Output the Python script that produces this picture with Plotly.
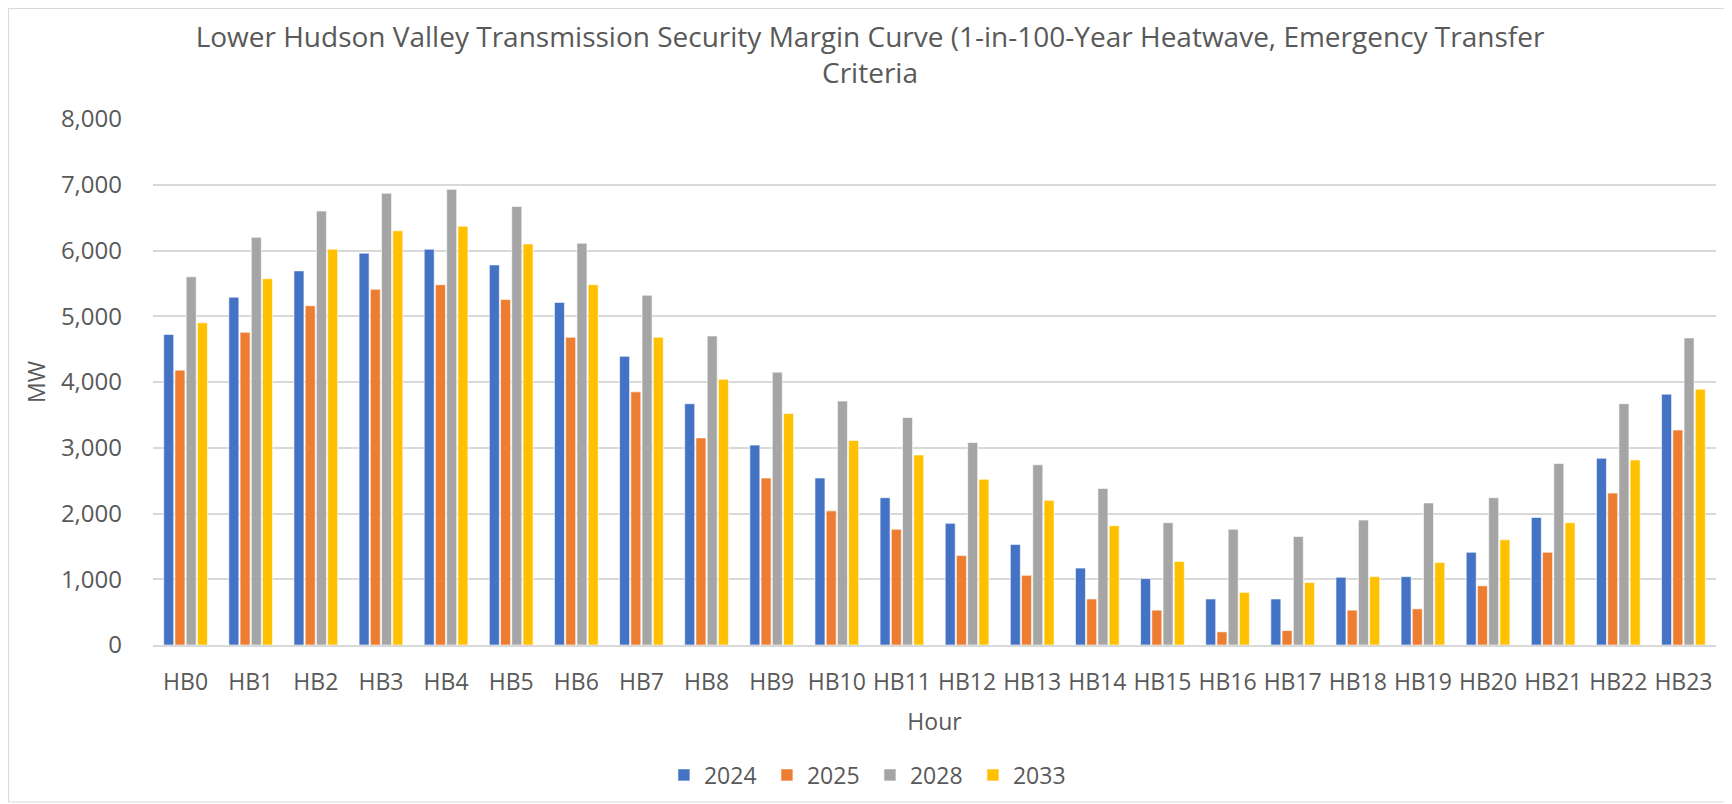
import plotly.graph_objects as go

hours = [f"HB{i}" for i in range(24)]
mw_2024 = [4723, 5290, 5690, 5960, 6020, 5780, 5210, 4390, 3670, 3040, 2540, 2240,
           1850, 1530, 1170, 1010, 700, 700, 1030, 1040, 1410, 1940, 2840, 3815]
mw_2025 = [4180, 4755, 5160, 5410, 5480, 5255, 4680, 3850, 3150, 2540, 2040, 1760,
           1360, 1060, 700, 530, 200, 220, 530, 550, 900, 1410, 2310, 3270]
mw_2028 = [5600, 6200, 6600, 6870, 6930, 6670, 6110, 5320, 4700, 4150, 3710, 3460,
           3080, 2740, 2380, 1860, 1760, 1650, 1900, 2160, 2240, 2760, 3670, 4670]
mw_2033 = [4900, 5570, 6020, 6300, 6370, 6100, 5480, 4680, 4040, 3520, 3110, 2890,
           2520, 2200, 1815, 1270, 800, 950, 1040, 1255, 1600, 1860, 2815, 3890]

series = [("2024", mw_2024, "#4472C4"), ("2025", mw_2025, "#ED7D31"),
          ("2028", mw_2028, "#A5A5A5"), ("2033", mw_2033, "#FFC000")]

txt = "#595959"
font = "Open Sans"
W, H = 1724, 803

fig = go.Figure()
for name, vals, col in series:
    fig.add_trace(go.Bar(x=hours, y=vals, name=name, marker_color=col,
                         marker_line=dict(color="white", width=0.6)))

fig.update_layout(
    width=W, height=H,
    paper_bgcolor="white", plot_bgcolor="white",
    font=dict(family=font, color=txt, size=23),
    title=dict(text="Lower Hudson Valley Transmission Security Margin Curve (1-in-100-Year Heatwave, Emergency Transfer<br>Criteria",
               x=0.5, xanchor="center", y=1 - 39 / H, yanchor="middle",
               font=dict(size=28, color=txt, family=font)),
    barmode="group", bargap=0.31, bargroupgap=0.11,
    margin=dict(l=145, r=16, t=111, b=166),
    legend=dict(orientation="h", x=0.4587, xanchor="center",
                y=-0.2471, yanchor="middle", bgcolor="rgba(0,0,0,0)",
                font=dict(size=23, color=txt), traceorder="normal",
                entrywidth=58, entrywidthmode="pixels"),
    xaxis=dict(title=dict(text="Hour", font=dict(size=23, color=txt), standoff=18),
               showline=True, linecolor="#d9d9d9", linewidth=1.5, ticks="",
               tickfont=dict(size=23, color=txt), ticklabelstandoff=16),
    yaxis=dict(title=dict(text="MW", font=dict(size=23, color=txt), standoff=8),
               range=[0, 8000], dtick=1000, tickformat=",", showgrid=True,
               gridcolor="#d9d9d9", gridwidth=1.5, zeroline=False,
               tickfont=dict(size=24, color=txt), ticklabelstandoff=30),
    shapes=[dict(type="rect", xref="paper", yref="paper", x0=-0.0925, x1=1.009,
                 y0=-0.2985, y1=1.2101, line=dict(color="#d9d9d9", width=1))],
)

fig.write_html("out.html")
